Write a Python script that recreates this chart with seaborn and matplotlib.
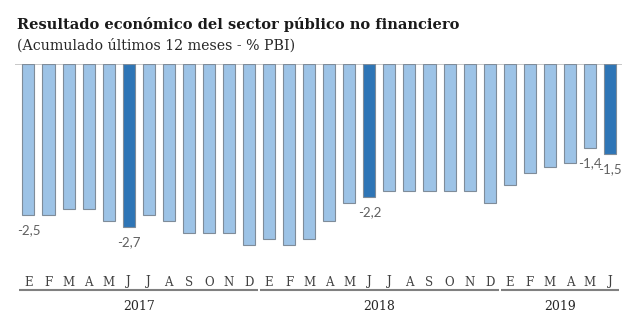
import matplotlib
matplotlib.use("Agg")
import matplotlib.pyplot as plt
import matplotlib.transforms as mtransforms
import seaborn as sns
import pandas as pd

months = ["E", "F", "M", "A", "M", "J", "J", "A", "S", "O", "N", "D",
          "E", "F", "M", "A", "M", "J", "J", "A", "S", "O", "N", "D",
          "E", "F", "M", "A", "M", "J"]
years = ["2017"] * 12 + ["2018"] * 12 + ["2019"] * 6
values = [-2.5, -2.5, -2.4, -2.4, -2.6, -2.7, -2.5, -2.6, -2.8, -2.8, -2.8, -3.0,
          -2.9, -3.0, -2.9, -2.6, -2.3, -2.2, -2.1, -2.1, -2.1, -2.1, -2.1, -2.3,
          -2.0, -1.8, -1.7, -1.65, -1.4, -1.5]
highlight = [5, 17, 29]
labels = {0: "-2,5", 5: "-2,7", 17: "-2,2", 28: "-1,4", 29: "-1,5"}

LIGHT = "#9DC3E6"
DARK = "#2E75B6"
EDGE = "#7F8C99"

sns.set_theme(style="white")
plt.rcParams["font.family"] = ["DejaVu Serif"]

W, H = 640, 326
fig = plt.figure(figsize=(W / 100, H / 100), dpi=100)
top_px, bot_px = 64, 260
ax = fig.add_axes([15 / W, 1 - bot_px / H, (622 - 15) / W, (bot_px - top_px) / H])

df = pd.DataFrame({"i": list(range(len(values))), "v": values})
colors = [DARK if i in highlight else LIGHT for i in range(len(values))]
sns.barplot(data=df, x="i", y="v", hue="i", palette=colors, legend=False,
            width=0.6, edgecolor=EDGE, linewidth=0.8, ax=ax, saturation=1)

ax.set_ylim(-(bot_px - top_px) / 60.3, 0)
ax.set_xlim(-0.67, 29.6)
ax.axhline(0, color="#BFBFBF", lw=1.2, zorder=0)
for s in ax.spines.values():
    s.set_visible(False)
ax.set_xticks([]); ax.set_yticks([])
ax.set_xlabel(""); ax.set_ylabel("")

for i, t in labels.items():
    ax.annotate(t, (i, values[i]), xytext=(0, -15), textcoords="offset pixels",
                ha="center", va="center", fontsize=9.5, color="#606060",
                family=["Lato", "DejaVu Sans"])

tr = mtransforms.blended_transform_factory(ax.transData, fig.transFigure)
for i, m in enumerate(months):
    ax.text(i, 1 - 282 / H, m, transform=tr, ha="center", va="center",
            fontsize=8.5, color="#404040", clip_on=False)

groups = {}
for i, y in enumerate(years):
    groups.setdefault(y, []).append(i)
for y, idx in groups.items():
    x0, x1 = idx[0] - 0.45, idx[-1] + 0.45
    ax.plot([x0, x1], [1 - 289.5 / H] * 2, transform=tr, color="#808080", lw=1.5,
            clip_on=False, solid_capstyle="butt")
    ax.text((idx[0] + idx[-1]) / 2, 1 - 307 / H, y, transform=tr, ha="center",
            va="center", fontsize=9, color="#262626", clip_on=False)

fig.text(17 / W, 1 - 24 / H, "Resultado económico del sector público no financiero",
         ha="left", va="center", fontsize=10.5, fontweight="bold", color="#1a1a1a")
fig.text(17 / W, 1 - 46 / H, "(Acumulado últimos 12 meses - % PBI)",
         ha="left", va="center", fontsize=10.2, color="#262626")

fig.savefig("out.png", dpi=100)
